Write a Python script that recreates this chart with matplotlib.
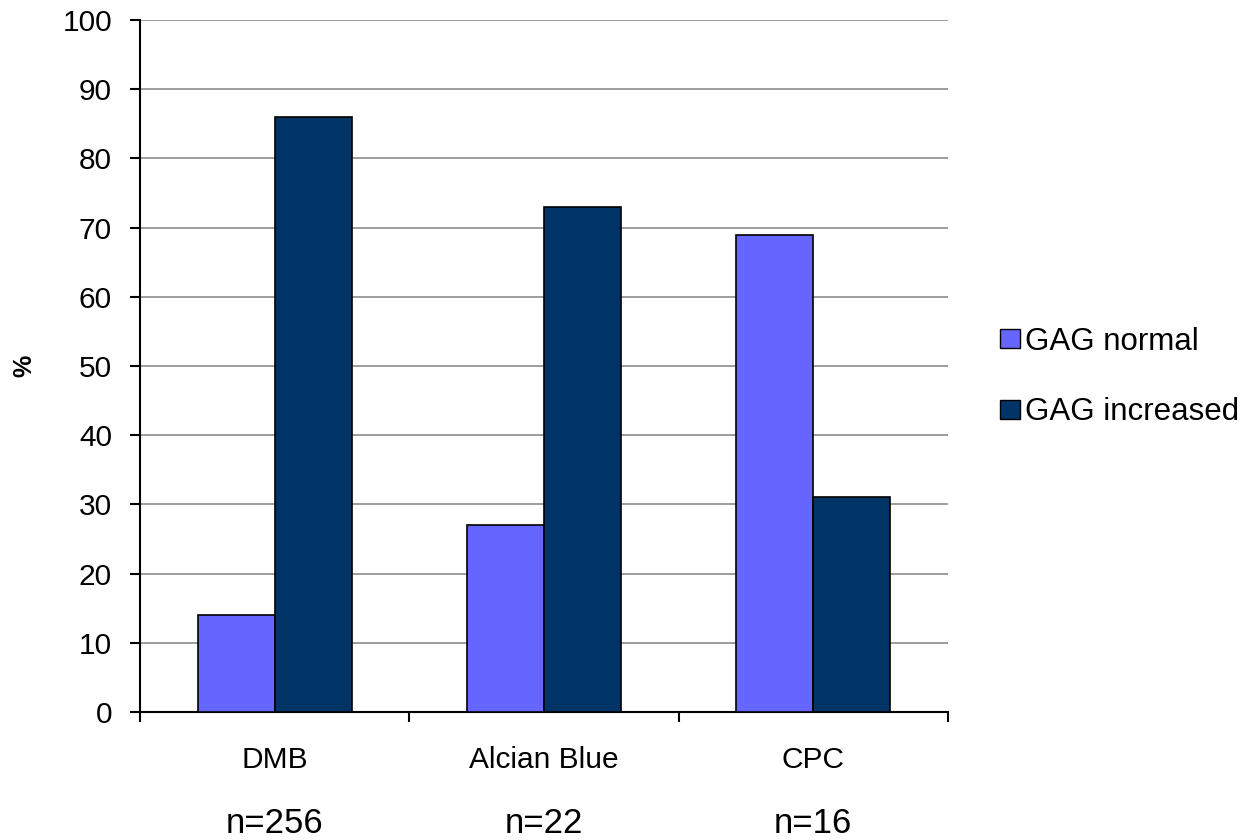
import numpy as np
import matplotlib.pyplot as plt
from matplotlib.patches import Patch

plt.rcParams['font.family'] = ['Liberation Sans', 'DejaVu Sans']

# Dati
methods = ["DMB", "Alcian Blue", "CPC"]
sample_sizes = ["n=256", "n=22", "n=16"]
gag_normal = [14, 27, 69]
gag_increased = [86, 73, 31]

COL_NORMAL = "#6666FF"
COL_INCREASED = "#003366"
WIDTH = 0.286

fig = plt.figure(figsize=(12.46, 8.4), dpi=100)
ax = fig.add_axes([0.1124, 0.1524, 0.6484, 0.8238])

x = np.arange(len(methods))
ax.bar(x - WIDTH / 2, gag_normal, WIDTH, color=COL_NORMAL, edgecolor="black",
       linewidth=1.2, zorder=3)
ax.bar(x + WIDTH / 2, gag_increased, WIDTH, color=COL_INCREASED, edgecolor="black",
       linewidth=1.2, zorder=3)

ax.set_xlim(-0.5, len(methods) - 0.5)
ax.set_ylim(0, 100)
ax.set_yticks(range(0, 101, 10))
ax.yaxis.grid(True, color="#8c8c8c", linewidth=1.2, zorder=0)

# tick di categoria sui bordi, etichette al centro
ax.set_xticks(np.arange(len(methods) + 1) - 0.5)
ax.set_xticklabels([])
for i, (m, n) in enumerate(zip(methods, sample_sizes)):
    ax.text(i, -7.0, m, ha="center", va="center", fontsize=21.5, clip_on=False)
    ax.text(i, -17.5, n, ha="center", va="baseline", fontsize=25, clip_on=False)

for s in ["top", "right"]:
    ax.spines[s].set_visible(False)
for s in ["left", "bottom"]:
    ax.spines[s].set_linewidth(1.5)
ax.tick_params(axis="both", direction="out", length=7.2, width=1.5, labelsize=21.5)
ax.tick_params(axis="y", pad=13)

fig.text(24 / 1246, 1 - 366 / 840, "%", rotation=90, ha="center", va="center",
         fontsize=18, fontweight="bold")

handles = [Patch(facecolor=COL_NORMAL, edgecolor="black", label="GAG normal"),
           Patch(facecolor=COL_INCREASED, edgecolor="black", label="GAG increased")]
fig.legend(handles=handles, loc="center left", bbox_to_anchor=(1000 / 1246, 1 - 377 / 840),
           frameon=False, fontsize=22.5, handlelength=0.65, handleheight=0.55,
           handletextpad=0.15, labelspacing=1.3, borderpad=0, borderaxespad=0)

fig.savefig("out.png", dpi=100)
